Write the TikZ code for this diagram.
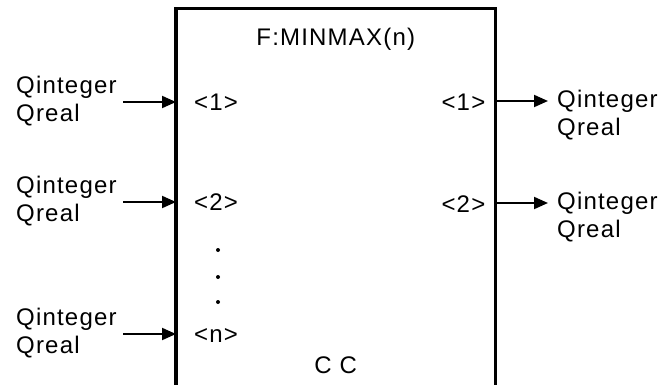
\documentclass[tikz,border=0pt]{standalone}
\usepackage{fontspec}
\setmainfont{Liberation Sans}[LetterSpace=5.0]
\usepackage{tikz}
\usetikzlibrary{arrows.meta,positioning,calc}
\definecolor{ink}{HTML}{000000}
\tikzset{
  fnbox/.style={
    rectangle, draw=ink, line width=3.5pt, outer sep=0pt,
    minimum width=319.5pt, minimum height=420pt
  },
  sigarrow/.style={-{Triangle[length=14pt,width=12pt]}, line width=2pt, color=ink},
  sigtext/.style={
    inner sep=0pt, align=left, text=ink,
    font=\fontsize{24}{28.5}\selectfont
  },
  portlabel/.style={inner sep=0pt, text=ink, font=\fontsize{24}{28.5}\selectfont},
}
\begin{document}
\begin{tikzpicture}[x=1pt,y=1pt]
  \useasboundingbox (0,0) rectangle (664,384);
  \node[fnbox] (minmax) at (335.75,165.7) {};
  \node[portlabel, anchor=base] (fname) at ([yshift=-36.7pt]minmax.north) {F:MINMAX(n)};
  \node[portlabel, anchor=base] (ccmark) at (minmax.center |- 0,11) {C C};

  \foreach \k/\y in {1/282,2/182,n/50}{
    \coordinate (in\k) at (minmax.west |- 0,\y);
    \coordinate (src\k) at (123,\y);
    \draw[sigarrow] (src\k) -- (in\k);
    \node[sigtext, anchor=base west] (qin\k) at (16,\y-19.5) {Qinteger\\Qreal};
    \node[portlabel, anchor=base west] (pin\k) at ([shift={(18pt,-8pt)}]in\k) {<\k>};
  }
  \foreach \k/\y in {1/283,2/181}{
    \coordinate (out\k) at (minmax.east |- 0,\y);
    \coordinate (dst\k) at (548,\y);
    \draw[sigarrow] (out\k) -- (dst\k);
    \node[sigtext, anchor=base west] (qout\k) at (557,\y-34.5) {Qinteger\\Qreal};
    \node[portlabel, anchor=base east] (pout\k) at ([shift={(-10pt,-9pt)}]out\k) {<\k>};
  }
  \foreach \y in {134,107,82}
    \fill[ink] (218,\y) circle (2pt);
\end{tikzpicture}
\end{document}
